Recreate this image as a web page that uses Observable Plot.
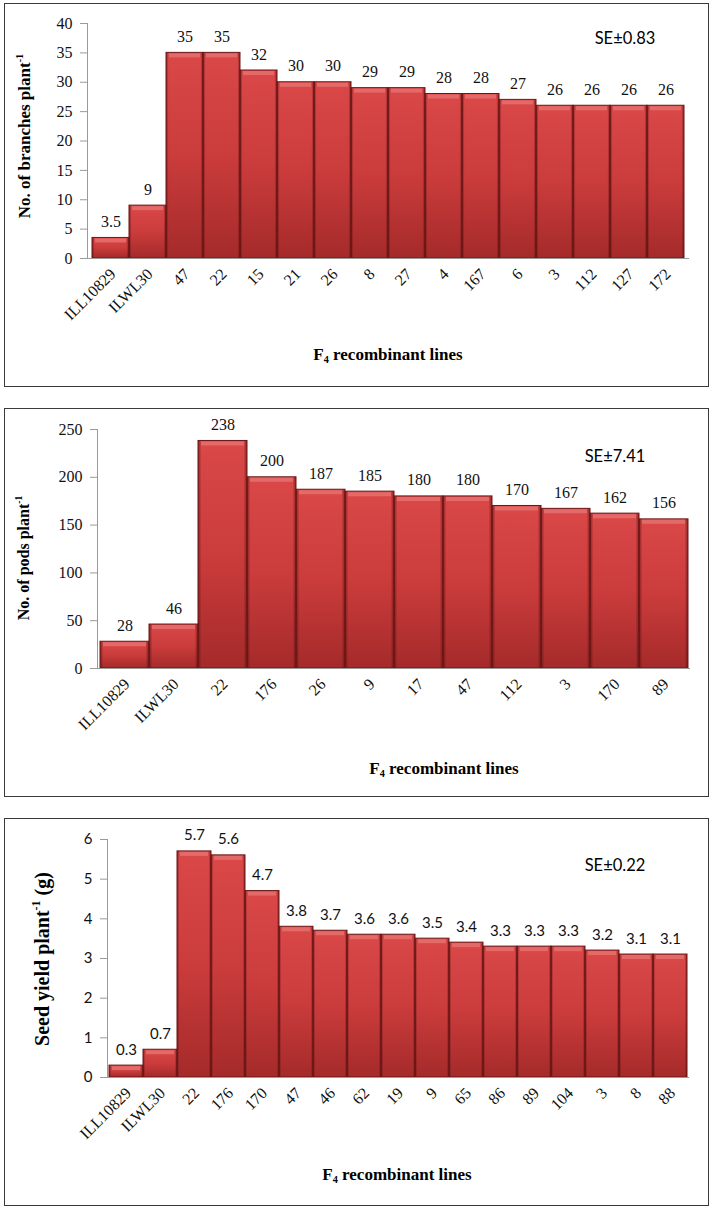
<!DOCTYPE html>
<html>
<head>
<meta charset="utf-8">
<script src="https://cdn.jsdelivr.net/npm/d3@7"></script>
<script src="https://cdn.jsdelivr.net/npm/@observablehq/plot@0.6"></script>
<style>
  html, body { margin: 0; padding: 0; background: #fff; }
  body { position: relative; width: 714px; height: 1209px; overflow: hidden; }
  .box { position: absolute; border: 1.5px solid #3a3a3a; box-sizing: border-box; pointer-events: none; }
  .chart { position: absolute; }
  .ttl { position: absolute; white-space: nowrap; transform: translate(-50%, -50%); }
  .xt { font: bold 17px "Liberation Serif", "Times New Roman", serif; }
  .yt { font-family: "Liberation Serif", "Times New Roman", serif; font-weight: bold; transform: translate(-50%, -50%) rotate(-90deg); }
  .se { font: 16.5px Lato, "Open Sans", sans-serif; }
  sup { font-size: 0.6em; vertical-align: 0.7em; line-height: 0; }
  sub { font-size: 0.6em; vertical-align: -0.25em; line-height: 0; }
</style>
</head>
<body>
<svg width="0" height="0" style="position:absolute">
  <defs>
    <linearGradient id="gV" x1="0" y1="0" x2="0" y2="1">
      <stop offset="0" stop-color="#da4848"/>
      <stop offset="0.5" stop-color="#cb3c3c"/>
      <stop offset="1" stop-color="#a52a2a"/>
    </linearGradient>
    <linearGradient id="gH" x1="0" y1="0" x2="1" y2="0">
      <stop offset="0" stop-color="#5a0f0f" stop-opacity="0.65"/>
      <stop offset="0.07" stop-color="#5a0f0f" stop-opacity="0"/>
      <stop offset="0.93" stop-color="#5a0f0f" stop-opacity="0"/>
      <stop offset="1" stop-color="#5a0f0f" stop-opacity="0.65"/>
    </linearGradient>
  </defs>
</svg>

<div class="box" style="left:4px;top:3px;width:705px;height:384px"></div>
<div class="box" style="left:4px;top:408px;width:705px;height:389px"></div>
<div class="box" style="left:4px;top:818px;width:705px;height:388px"></div>

<div id="c1" class="chart" style="left:4px;top:3px"></div>
<div id="c2" class="chart" style="left:4px;top:409px"></div>
<div id="c3" class="chart" style="left:4px;top:819px"></div>

<div class="ttl yt" style="left:25px;top:136px;font-size:17px">No. of branches plant<sup>-1</sup></div>
<div class="ttl xt" style="left:388px;top:355px">F<sub>4</sub> recombinant lines</div>
<div class="ttl se" style="left:625px;top:38px">SE±0.83</div>

<div class="ttl yt" style="left:24px;top:558px;font-size:16px">No. of pods plant<sup>-1</sup></div>
<div class="ttl xt" style="left:444px;top:769px">F<sub>4</sub> recombinant lines</div>
<div class="ttl se" style="left:615px;top:456px">SE±7.41</div>

<div class="ttl yt" style="left:42px;top:959px;font-size:20px">Seed yield plant<sup>-1</sup> (g)</div>
<div class="ttl xt" style="left:397px;top:1175px">F<sub>4</sub> recombinant lines</div>
<div class="ttl se" style="left:615px;top:865px">SE±0.22</div>

<script>
// ---- data ----
const lines1 = ["ILL10829","ILWL30","47","22","15","21","26","8","27","4","167","6","3","112","127","172"];
const branches = [3.5,9,35,35,32,30,30,29,29,28,28,27,26,26,26,26];

const lines2 = ["ILL10829","ILWL30","22","176","26","9","17","47","112","3","170","89"];
const pods = [28,46,238,200,187,185,180,180,170,167,162,156];

const lines3 = ["ILL10829","ILWL30","22","176","170","47","46","62","19","9","65","86","89","104","3","8","88"];
const seed = [0.3,0.7,5.7,5.6,4.7,3.8,3.7,3.6,3.6,3.5,3.4,3.3,3.3,3.3,3.2,3.1,3.1];

const ticks1 = [0,5,10,15,20,25,30,35,40];
const ticks2 = [0,50,100,150,200,250];
const ticks3 = [0,1,2,3,4,5,6];

const serif = '"Liberation Serif", "Times New Roman", serif';
const sans = 'Lato, "Open Sans", sans-serif';

function panel(lines, values, yTicks, opts) {
  const data = lines.map((l, i) => ({line: l, value: values[i]}));
  const svg = Plot.plot({
    width: 704,
    height: opts.height,
    marginLeft: opts.ml,
    marginRight: opts.mr,
    marginTop: 20,
    marginBottom: 128,
    style: {background: "transparent", color: "#000", fontFamily: serif, fontSize: "16px", overflow: "visible"},
    x: {domain: lines, padding: 0, label: null, axis: null},
    y: {domain: [yTicks[0], yTicks[yTicks.length - 1]], label: null, axis: null},
    marks: [
      Plot.barY(data, {x: "line", y: "value", fill: "url(#gV)"}),
      Plot.barY(data, {x: "line", y: "value", fill: "url(#gH)", stroke: "#6a1717", strokeWidth: 1}),
      Plot.tickY(data, {x: "line", y: "value", stroke: "#e46a6a", strokeWidth: 4, dy: 2.5, inset: 3}),
      Plot.text(data, {x: "line", y: "value", text: d => String(d.value), dy: -11, lineAnchor: "bottom",
        fontFamily: opts.labelFont, fontSize: opts.labelSize, fill: "#111"}),
      Plot.frame({anchor: "left", stroke: "#9a9a9a"}),
      Plot.ruleY([yTicks[0]], {stroke: "#9a9a9a"}),
      Plot.axisY({ticks: yTicks, tickFormat: d => String(d), tickSize: 7, tickPadding: 8, stroke: "#9a9a9a", fill: "#111",
        fontFamily: opts.tickFont, fontSize: opts.tickSize, label: null}),
      Plot.text(lines, {x: d => d, text: d => d, frameAnchor: "bottom", rotate: -45, textAnchor: "end",
        lineAnchor: "middle", dx: 2, dy: 13, fontFamily: serif, fontSize: 16, fill: "#111"})
    ]
  });
  const groups = d3.select(svg).selectAll('g[aria-label="text"]').nodes();
  d3.select(groups[0]).selectAll("text").style("font-family", opts.labelFont);
  if (groups[1]) d3.select(groups[1]).selectAll("text").style("font-family", serif);
  d3.select(svg).selectAll('g[aria-label="y-axis tick label"] text').style("font-family", opts.tickFont);
  return svg;
}

document.getElementById("c1").append(panel(lines1, branches, ticks1,
  {height: 383, ml: 83, mr: 19, labelFont: serif, labelSize: 16, tickFont: serif, tickSize: 16}));
document.getElementById("c2").append(panel(lines2, pods, ticks2,
  {height: 387, ml: 93, mr: 18, labelFont: serif, labelSize: 16, tickFont: serif, tickSize: 16}));
document.getElementById("c3").append(panel(lines3, seed, ticks3,
  {height: 386, ml: 103, mr: 19, labelFont: sans, labelSize: 15, tickFont: sans, tickSize: 15}));
</script>
</body>
</html>
